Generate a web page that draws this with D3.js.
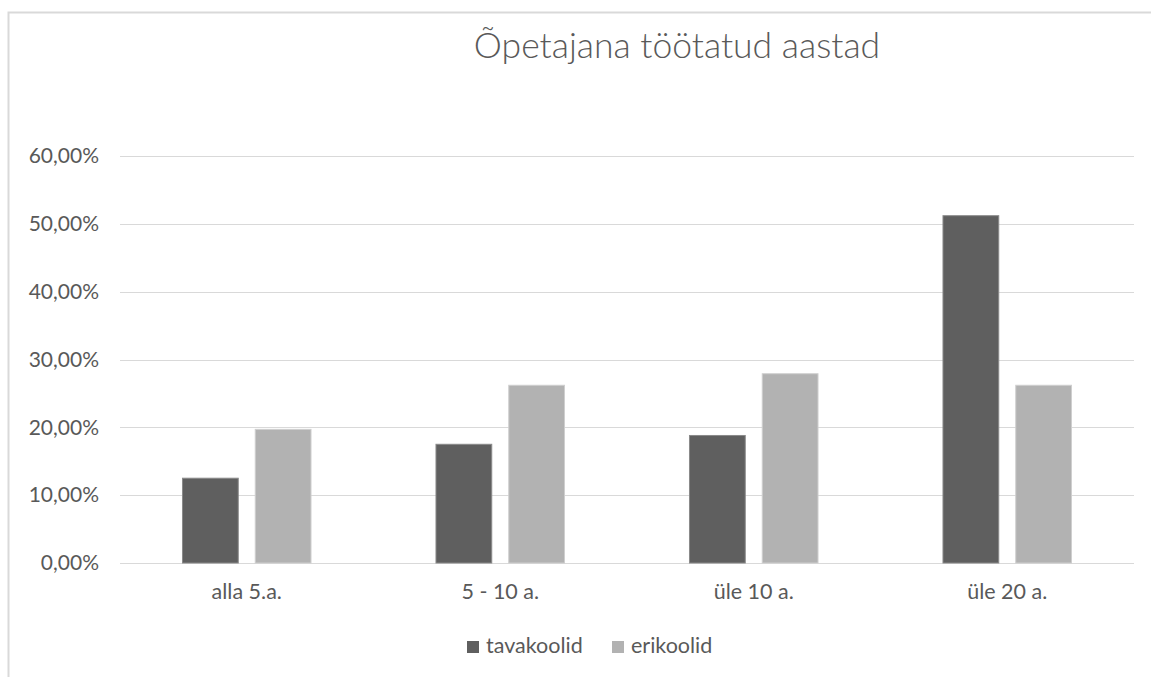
<!DOCTYPE html>
<html><head><meta charset="utf-8">
<script src="https://cdn.jsdelivr.net/npm/d3@7"></script>
<style>body{margin:0;background:#fff}</style>
</head><body>
<svg id="c" width="1151" height="677"></svg>
<script>
const categories = ["alla 5.a.", "5 - 10 a.", "üle 10 a.", "üle 20 a."];
const seriesNames = ["tavakoolid", "erikoolid"];
const tavakoolid = [0.125, 0.175, 0.188, 0.512];
const erikoolid = [0.197, 0.262, 0.279, 0.262];
const yTicks = [0, 0.1, 0.2, 0.3, 0.4, 0.5, 0.6];
const title = "Õpetajana töötatud aastad";
const colors = ["#5f5f5f", "#b2b2b2"];
const strokes = ["#8a8a8a", "#cfcfcf"];

const svg = d3.select("#c");
const font = "Lato, 'Open Sans', sans-serif";
const textCol = "#595959";

// chart frame
svg.append("rect").attr("x", 8.5).attr("y", 12.5).attr("width", 1160).attr("height", 700)
  .attr("fill", "#fff").attr("stroke", "#d9d9d9").attr("stroke-width", 2);

const L = 120, R = 1134, T = 156, B = 563;
const x0 = d3.scaleBand().domain(categories).range([L, R]).paddingInner(0.489).paddingOuter(0.2445);
const x1 = d3.scaleBand().domain(seriesNames).range([0, x0.bandwidth()]).paddingInner(0.22);
const y = d3.scaleLinear().domain([0, 0.6]).range([B, T]);

const fmt = v => d3.format(".2f")(v * 100).replace(".", ",") + "%";

// gridlines
svg.append("g").selectAll("line").data(yTicks).join("line")
  .attr("x1", L).attr("x2", R)
  .attr("y1", d => Math.round(y(d)) + 0.5).attr("y2", d => Math.round(y(d)) + 0.5)
  .attr("stroke", "#d9d9d9").attr("stroke-width", 1);

// y axis labels
const yAxis = d3.axisLeft(y).tickValues(yTicks).tickFormat(fmt).tickSize(0).tickPadding(0);
const gy = svg.append("g").attr("transform", `translate(${99},0)`).call(yAxis);
gy.select(".domain").remove();
gy.selectAll("text").attr("font-family", font).attr("font-size", 21).attr("fill", textCol);

// x axis labels
const xAxis = d3.axisBottom(x0).tickSize(0).tickPadding(0);
const gx = svg.append("g").attr("transform", `translate(0,${584})`).call(xAxis);
gx.select(".domain").remove();
gx.selectAll("text").attr("font-family", font).attr("font-size", 21.5).attr("fill", textCol);

// bars
const data = [tavakoolid, erikoolid];
seriesNames.forEach((s, si) => {
  svg.append("g").selectAll("rect").data(categories).join("rect")
    .attr("x", c => x0(c) + x1(s) + 0.5)
    .attr("y", (c, i) => y(data[si][i]))
    .attr("width", x1.bandwidth() - 1)
    .attr("height", (c, i) => y(0) - y(data[si][i]))
    .attr("fill", colors[si]).attr("stroke", strokes[si]).attr("stroke-width", 1);
});

// title
svg.append("text").attr("x", 677).attr("y", 58).attr("text-anchor", "middle")
  .attr("font-family", font).attr("font-weight", 300).attr("font-size", 35.5).attr("fill", textCol).text(title);

// legend
const legX = [467, 612];
seriesNames.forEach((s, si) => {
  svg.append("rect").attr("x", legX[si]).attr("y", 641).attr("width", 12).attr("height", 12).attr("fill", colors[si]);
  svg.append("text").attr("x", legX[si] + 19).attr("y", 653).attr("font-family", font)
    .attr("font-size", 21.5).attr("fill", textCol).text(s);
});
</script>
</body></html>
